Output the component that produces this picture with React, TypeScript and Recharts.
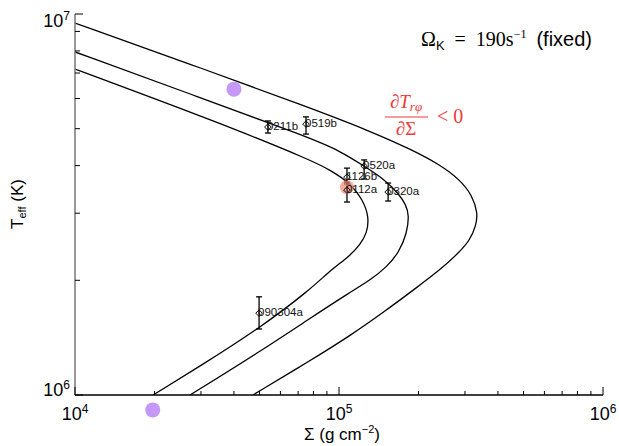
import React from "react";
import {
  ComposedChart,
  Line,
  Scatter,
  XAxis,
  YAxis,
  ErrorBar,
  ReferenceDot,
  Customized,
} from "recharts";

// ---------- data (Sigma in g cm^-2, Teff in K) ----------
const innerSigma = [1e4, 1.92e4, 4.217e4, 7.77e4, 9.24e4, 1.101e5, 1.233e5, 1.299e5, 1.277e5, 1.201e5, 1.101e5, 9.24e4, 7.77e4, 5.02e4, 2.975e4, 1.975e4];
const innerTeff = [7.17e6, 6.06e6, 4.93e6, 4.14e6, 3.9e6, 3.6e6, 3.25e6, 2.93e6, 2.66e6, 2.48e6, 2.32e6, 2.12e6, 1.89e6, 1.5e6, 1.19e6, 1.0e6];

const middleSigma = [1e4, 2.727e4, 7.77e4, 1.009e5, 1.244e5, 1.494e5, 1.688e5, 1.794e5, 1.842e5, 1.81e5, 1.688e5, 1.52e5, 1.31e5, 1.101e5, 7.77e4, 5.02e4, 2.727e4];
const middleTeff = [7.95e6, 6.17e6, 4.73e6, 4.37e6, 3.99e6, 3.67e6, 3.37e6, 3.15e6, 2.97e6, 2.66e6, 2.37e6, 2.17e6, 2.0e6, 1.86e6, 1.59e6, 1.3e6, 1.0e6];

const outerSigma = [1e4, 2.727e4, 7.77e4, 1.31e5, 1.89e5, 2.413e5, 2.873e5, 3.19e5, 3.36e5, 3.3e5, 3.135e5, 2.823e5, 2.413e5, 1.941e5, 1.494e5, 1.101e5, 7.77e4, 4.72e4];
const outerTeff = [9.47e6, 7.39e6, 5.67e6, 4.93e6, 4.4e6, 4.02e6, 3.67e6, 3.35e6, 3.0e6, 2.78e6, 2.55e6, 2.35e6, 2.13e6, 1.9e6, 1.66e6, 1.43e6, 1.23e6, 1.0e6];

const obsName = ["0211b", "0519b", "0520a", "1126b", "0112a", "0320a", "090304a"];
const obsSigma = [5.38e4, 7.5e4, 1.245e5, 1.072e5, 1.072e5, 1.535e5, 4.98e4];
const obsTeff = [5.05e6, 5.14e6, 3.99e6, 3.73e6, 3.45e6, 3.41e6, 1.64e6];
const obsTeffLow = [4.87e6, 4.84e6, 3.69e6, 3.58e6, 3.21e6, 3.23e6, 1.49e6];
const obsTeffHigh = [5.24e6, 5.37e6, 4.14e6, 3.94e6, 3.62e6, 3.6e6, 1.81e6];

const purpleSigma = [4.0e4, 1.97e4];
const purpleTeff = [6.35e6, 9.14e5];
const salmonSigma = [1.072e5];
const salmonTeff = [3.51e6];

const xDomain = [1e4, 1e6];
const yDomain = [1e6, 1e7];
const xMajorTicks = [1e4, 1e5, 1e6];
const xMajorLabels = ["4", "5", "6"];
const xMinorTicks = [2e4, 3e4, 4e4, 5e4, 6e4, 7e4, 8e4, 9e4, 2e5, 3e5, 4e5, 5e5, 6e5, 7e5, 8e5, 9e5];
const yMajorTicks = [1e6, 1e7];
const yMajorLabels = ["6", "7"];
const yMinorTicks = [2e6, 3e6, 4e6, 5e6, 6e6, 7e6, 8e6, 9e6];

// ---------- styling ----------
const W = 619;
const H = 446;
const SANS = "'Liberation Sans', Arial, Helvetica, sans-serif";
const SERIF = "'Liberation Serif', 'Times New Roman', serif";
const RED = "#ee3a3a";
const PURPLE = "#c598f7";
const SALMON = "#f08872";

const toPts = (xs: number[], ys: number[]) => xs.map((x, i) => ({ x, y: ys[i] }));
const innerCurve = toPts(innerSigma, innerTeff);
const middleCurve = toPts(middleSigma, middleTeff);
const outerCurve = toPts(outerSigma, outerTeff);
const obsData = obsName.map((name, i) => ({
  name,
  x: obsSigma[i],
  y: obsTeff[i],
  err: [obsTeff[i] - obsTeffLow[i], obsTeffHigh[i] - obsTeff[i]],
}));

const xTicks = [...xMajorTicks, ...xMinorTicks];
const yTicks = [...yMajorTicks, ...yMinorTicks];

const BottomTick = (p: any) => {
  const v = p.payload.value;
  const mi = xMajorTicks.indexOf(v);
  const major = mi >= 0;
  return (
    <g>
      <line x1={p.x} x2={p.x} y1={p.y} y2={p.y - (major ? 8 : 4)} stroke="#000" strokeWidth={1} />
      {major && (
        <text x={p.x} y={p.y + 25} textAnchor="middle" fontFamily={SANS} fontSize={18} fill="#000">
          10<tspan dy={-7} fontSize={12}>{xMajorLabels[mi]}</tspan>
        </text>
      )}
    </g>
  );
};

const TopTick = (p: any) => {
  const v = p.payload.value;
  const major = xMajorTicks.indexOf(v) >= 0;
  return <line x1={p.x} x2={p.x} y1={p.y} y2={p.y + (major ? 8 : 4)} stroke="#000" strokeWidth={1} />;
};

const LeftTick = (p: any) => {
  const v = p.payload.value;
  const mi = yMajorTicks.indexOf(v);
  const major = mi >= 0;
  const base = v === yDomain[1] ? p.y + 13 : p.y + 1;
  return (
    <g>
      <line x1={p.x} x2={p.x + (major ? 8 : 5)} y1={p.y} y2={p.y} stroke="#000" strokeWidth={1} />
      {major && (
        <text x={p.x - 5} y={base} textAnchor="end" fontFamily={SANS} fontSize={18} fill="#000">
          10<tspan dy={-7} fontSize={12}>{yMajorLabels[mi]}</tspan>
        </text>
      )}
    </g>
  );
};

const RightTick = (p: any) => {
  const v = p.payload.value;
  const major = yMajorTicks.indexOf(v) >= 0;
  return <line x1={p.x} x2={p.x - (major ? 8 : 5)} y1={p.y} y2={p.y} stroke="#000" strokeWidth={1} />;
};

const ObsShape = (p: any) => {
  const { cx, cy } = p;
  const name = p.payload ? p.payload.name : p.name;
  const s = 3.3;
  return (
    <g>
      <polygon
        points={`${cx},${cy - s} ${cx + s},${cy} ${cx},${cy + s} ${cx - s},${cy}`}
        fill="none"
        stroke="#000"
        strokeWidth={1}
      />
      <text x={cx - 1} y={cy + 3} fontFamily={SANS} fontSize={11.5} fill="#111">
        {name}
      </text>
    </g>
  );
};

const Annotations = () => (
  <g>
    <text x={592} y={46} textAnchor="end" fontSize={20} fill="#000" style={{ whiteSpace: "pre" }}>
      <tspan fontFamily={SERIF}>Ω</tspan>
      <tspan fontFamily={SANS} fontSize={13} dy={4}>K</tspan>
      <tspan fontFamily={SERIF} dy={-4}>{"\u2002=\u2002190s"}</tspan>
      <tspan fontFamily={SERIF} fontSize={12} dy={-8}>{"−1"}</tspan>
      <tspan fontFamily={SANS} dy={8}>{"\u2002(fixed)"}</tspan>
    </text>
    <text x={406} y={108} textAnchor="middle" fontFamily={SERIF} fontSize={19} fill={RED}>
      ∂<tspan fontStyle="italic">T</tspan>
      <tspan fontStyle="italic" fontSize={13} dy={3}>rφ</tspan>
    </text>
    <line x1={385} x2={428} y1={117} y2={117} stroke={RED} strokeWidth={1} />
    <text x={406} y={135} textAnchor="middle" fontFamily={SERIF} fontSize={19} fill={RED}>
      ∂Σ
    </text>
    <text x={437} y={123} fontFamily={SERIF} fontSize={20} fill={RED} style={{ whiteSpace: "pre" }}>
      {"< 0"}
    </text>
    <text transform="rotate(-90)" x={-204} y={23} textAnchor="middle" fontFamily={SANS} fontSize={17} fill="#000">
      T<tspan fontSize={11} dy={3}>eff</tspan>
      <tspan dy={-3}>{" (K)"}</tspan>
    </text>
    <text x={342} y={440} textAnchor="middle" fontFamily={SANS} fontSize={17} fill="#000">
      Σ (g cm<tspan fontSize={11} dy={-7}>−2</tspan>
      <tspan dy={7}>)</tspan>
    </text>
  </g>
);

export default function App() {
  return (
    <div style={{ position: "absolute", left: 0, top: 0, width: W, height: H, background: "#fff" }}>
      <ComposedChart width={W} height={H} margin={{ top: 14, right: 16, bottom: 0, left: 0 }}>
        <XAxis
          xAxisId="b"
          dataKey="x"
          type="number"
          scale="log"
          domain={xDomain}
          allowDataOverflow
          ticks={xTicks}
          interval={0}
          height={51}
          tickSize={0}
          tickMargin={0}
          tickLine={false}
          tick={<BottomTick />}
          axisLine={{ stroke: "#000", strokeWidth: 1.5 }}
        />
        <XAxis
          xAxisId="t"
          orientation="top"
          dataKey="x"
          type="number"
          scale="log"
          domain={xDomain}
          allowDataOverflow
          ticks={xTicks}
          interval={0}
          height={0}
          tickSize={0}
          tickMargin={0}
          tickLine={false}
          tick={<TopTick />}
          axisLine={{ stroke: "#000", strokeWidth: 1.5 }}
        />
        <YAxis
          yAxisId="l"
          dataKey="y"
          type="number"
          scale="log"
          domain={yDomain}
          allowDataOverflow
          ticks={yTicks}
          interval={0}
          width={75}
          tickSize={0}
          tickMargin={0}
          tickLine={false}
          tick={<LeftTick />}
          axisLine={{ stroke: "#777", strokeWidth: 1.5 }}
        />
        <YAxis
          yAxisId="r"
          orientation="right"
          dataKey="y"
          type="number"
          scale="log"
          domain={yDomain}
          allowDataOverflow
          ticks={yTicks}
          interval={0}
          width={0}
          tickSize={0}
          tickMargin={0}
          tickLine={false}
          tick={<RightTick />}
          axisLine={{ stroke: "#777", strokeWidth: 1.5 }}
        />
        {[innerCurve, middleCurve, outerCurve].map((d, i) => (
          <Line
            key={i}
            xAxisId="b"
            yAxisId="l"
            data={d}
            dataKey="y"
            type="basis"
            stroke="#000"
            strokeWidth={1.3}
            dot={false}
            activeDot={false}
            isAnimationActive={false}
          />
        ))}
        {purpleSigma.map((s, i) => (
          <ReferenceDot
            key={"p" + i}
            xAxisId="b"
            yAxisId="l"
            x={s}
            y={purpleTeff[i]}
            r={7.5}
            fill={PURPLE}
            stroke="none"
            ifOverflow="visible"
          />
        ))}
        {salmonSigma.map((s, i) => (
          <ReferenceDot
            key={"s" + i}
            xAxisId="b"
            yAxisId="l"
            x={s}
            y={salmonTeff[i]}
            r={7}
            fill={SALMON}
            fillOpacity={0.7}
            stroke="none"
            ifOverflow="visible"
          />
        ))}
        <Scatter xAxisId="b" yAxisId="l" data={obsData} dataKey="y" shape={<ObsShape />} isAnimationActive={false}>
          <ErrorBar dataKey="err" direction="y" width={3} stroke="#000" strokeWidth={1.3} isAnimationActive={false} />
        </Scatter>
        <Customized component={<Annotations />} />
      </ComposedChart>
    </div>
  );
}
